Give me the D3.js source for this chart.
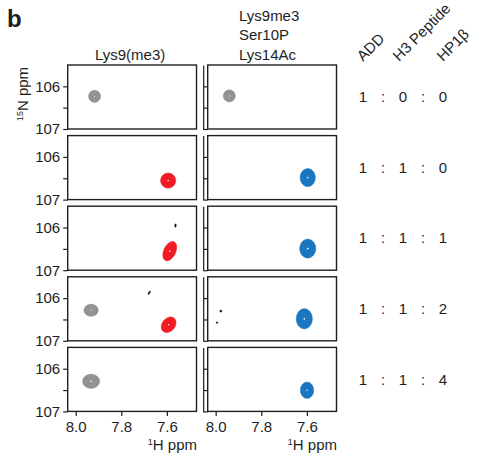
<!DOCTYPE html>
<html lang="en">
<head>
<meta charset="UTF-8">
<title>ADD HSQC titration</title>
<script src="https://d3js.org/d3.v7.min.js"></script>
<style>
  body { margin: 0; background: #fff; }
  text { font-family: "Liberation Sans", Arial, Helvetica, sans-serif; fill: #1e1e1e; }
  .frame { fill: none; stroke: #1e1e1e; stroke-width: 1.4; }
  .axis path, .axis line { stroke: #1e1e1e; stroke-width: 1.2; }
  .axis text { font-size: 15px; font-family: "Liberation Sans", Arial, sans-serif; fill: #1e1e1e; }
</style>
</head>
<body>
<svg id="chart"></svg>
<script>
// data
const panelTitles = [["Lys9(me3)"], ["Lys9me3", "Ser10P", "Lys14Ac"]];
const ratioHeaders = ["ADD", "H3 Peptide", "HP1β"];
const ratios = [[1, 0, 0], [1, 1, 0], [1, 1, 1], [1, 1, 2], [1, 1, 4]];
const hTicks = [8.0, 7.8, 7.6];
const nTicks = [106, 106.5, 107];
const hDomain = [8.035, 7.47];
const nDomain = [105.5, 107];

// row, col, 1H ppm, 15N ppm, half widths (ppm), tilt (deg), state
const peaks = [
  { row: 0, col: 0, h: 7.918, n: 106.23, wh: 0.026, wn: 0.14, tilt: 0, state: "free" },
  { row: 0, col: 1, h: 7.941, n: 106.22, wh: 0.026, wn: 0.14, tilt: 0, state: "free" },
  { row: 1, col: 0, h: 7.595, n: 106.55, wh: 0.033, wn: 0.175, tilt: 0, state: "me3" },
  { row: 1, col: 1, h: 7.597, n: 106.48, wh: 0.033, wn: 0.21, tilt: 0, state: "triple" },
  { row: 2, col: 0, h: 7.588, n: 106.55, wh: 0.026, wn: 0.24, tilt: 25, state: "me3" },
  { row: 2, col: 0, h: 7.563, n: 105.95, wh: 0.003, wn: 0.04, tilt: 0, state: "noise" },
  { row: 2, col: 1, h: 7.597, n: 106.49, wh: 0.035, wn: 0.22, tilt: 0, state: "triple" },
  { row: 3, col: 0, h: 7.933, n: 106.28, wh: 0.031, wn: 0.14, tilt: 0, state: "free" },
  { row: 3, col: 0, h: 7.593, n: 106.62, wh: 0.028, wn: 0.2, tilt: 40, state: "me3" },
  { row: 3, col: 0, h: 7.678, n: 105.87, wh: 0.003, wn: 0.045, tilt: 30, state: "noise" },
  { row: 3, col: 1, h: 7.612, n: 106.48, wh: 0.035, wn: 0.235, tilt: 0, state: "triple" },
  { row: 3, col: 1, h: 7.978, n: 106.30, wh: 0.004, wn: 0.025, tilt: 0, state: "noise" },
  { row: 3, col: 1, h: 7.995, n: 106.57, wh: 0.003, wn: 0.02, tilt: 0, state: "noise" },
  { row: 4, col: 0, h: 7.933, n: 106.29, wh: 0.037, wn: 0.165, tilt: 0, state: "free" },
  { row: 4, col: 1, h: 7.600, n: 106.50, wh: 0.029, wn: 0.19, tilt: 0, state: "triple" }
];

const colors = { free: "#8d8d8d", me3: "#ec1c24", triple: "#1b73b9", noise: "#111111" };

const width = 483, height = 454;
const panelX = [67.7, 207.7], panelW = 128.8, panelH = 64;
const rowY = i => 65 + i * 70.6;
const ratioX = [363, 403, 443], colonX = [383, 423];
const headerX = [363, 399, 443];

const svg = d3.select("#chart").attr("width", width).attr("height", height);

const x = d3.scaleLinear().domain(hDomain).range([0, panelW]);
const y = d3.scaleLinear().domain(nDomain).range([0, panelH]);

// grid for the contour levels
const k = 3;
const nx = Math.ceil(panelW * k), ny = panelH * k;
const levels = [0.22, 0.36, 0.5, 0.64, 0.78, 0.9];
const path = d3.geoPath(d3.geoIdentity().scale(1 / k));

function peakField(p) {
  const cx = x(p.h), cy = y(p.n);
  const s = Math.sqrt(2 * Math.log(1 / levels[0]));
  const sx = Math.abs(x(p.h + p.wh) - cx) / s;
  const sy = Math.abs(y(p.n + p.wn) - cy) / s;
  const t = p.tilt * Math.PI / 180;
  const vals = new Float64Array(nx * ny);
  for (let j = 0; j < ny; j++) {
    for (let i = 0; i < nx; i++) {
      const dx = i / k - cx, dy = j / k - cy;
      const u = dx * Math.cos(t) + dy * Math.sin(t);
      const v = -dx * Math.sin(t) + dy * Math.cos(t);
      vals[j * nx + i] = Math.exp(-(u * u / (2 * sx * sx) + v * v / (2 * sy * sy)));
    }
  }
  return vals;
}

// title
svg.append("text").attr("x", 7).attr("y", 27)
  .style("font-size", "24px").style("font-weight", "bold").text("b");

// column titles
svg.append("text").attr("x", panelX[0] + panelW / 2 - 2).attr("y", 59.5)
  .attr("text-anchor", "middle").style("font-size", "15px").text(panelTitles[0][0]);
svg.append("g").selectAll("text").data(panelTitles[1]).join("text")
  .attr("x", 239).attr("y", (d, i) => 20.5 + i * 19.5)
  .style("font-size", "15px").text(d => d);

// ratio headers
svg.append("g").selectAll("text").data(ratioHeaders).join("text")
  .attr("transform", (d, i) => `translate(${headerX[i]},62) rotate(-45)`)
  .style("font-size", "15px").text(d => d);

ratios.forEach((r, ri) => {
  const cy = rowY(ri) + panelH / 2;

  panelX.forEach((px, ci) => {
    const g = svg.append("g").attr("transform", `translate(${px},${rowY(ri)})`);

    g.append("defs").append("clipPath").attr("id", `c${ri}${ci}`)
      .append("rect").attr("width", panelW).attr("height", panelH);
    const plot = g.append("g").attr("clip-path", `url(#c${ri}${ci})`);

    peaks.filter(p => p.row === ri && p.col === ci).forEach(p => {
      const vals = peakField(p);
      const c = colors[p.state];
      const conts = d3.contours().size([nx, ny]).thresholds(levels)(vals);
      plot.append("path").attr("d", path(conts[0])).attr("fill", c)
        .attr("stroke", c).attr("stroke-width", 0.6);
      if (p.state !== "noise") {
        plot.selectAll(null).data(conts.slice(1)).join("path")
          .attr("d", path).attr("fill", "none")
          .attr("stroke", d3.color(c).brighter(0.35)).attr("stroke-width", 0.45);
        const centre = d3.contours().size([nx, ny]).thresholds([0.985])(vals);
        plot.append("path").attr("d", path(centre[0])).attr("fill", "#fff");
      }
    });

    g.append("rect").attr("class", "frame").attr("width", panelW).attr("height", panelH);

    // 15N axis
    if (ci === 0) {
      const ax = g.append("g").attr("class", "axis")
        .call(d3.axisLeft(y).tickValues(nTicks).tickSize(4.5).tickSizeOuter(0)
          .tickFormat(d => d % 1 ? "" : d));
      ax.select(".domain").remove();
    } else {
      g.append("g").attr("class", "axis").attr("transform", "translate(-4.5,0)")
        .call(d3.axisLeft(y).tickValues(nTicks).tickSize(-4.5).tickSizeOuter(0)
          .tickFormat(""));
    }

    // 1H axis on the last row
    if (ri === ratios.length - 1) {
      const bx = g.append("g").attr("class", "axis").attr("transform", `translate(0,${panelH})`)
        .call(d3.axisBottom(x).tickValues(hTicks).tickSize(4.5).tickPadding(5)
          .tickSizeOuter(0).tickFormat(d3.format(".1f")));
      bx.select(".domain").remove();
      const lab = g.append("text").attr("x", panelW + 0.5).attr("y", panelH + 39)
        .attr("text-anchor", "end").style("font-size", "15px");
      lab.append("tspan").attr("dy", -5).style("font-size", "9px").text("1");
      lab.append("tspan").attr("dy", 5).text("H ppm");
    }
  });

  // ratio text
  svg.append("g").selectAll("text").data(r).join("text")
    .attr("x", (d, i) => ratioX[i]).attr("y", cy).attr("dy", "0.35em")
    .attr("text-anchor", "middle").style("font-size", "15px").text(d => d);
  svg.append("g").selectAll("text").data(colonX).join("text")
    .attr("x", d => d).attr("y", cy).attr("dy", "0.35em")
    .attr("text-anchor", "middle").style("font-size", "15px").text(":");
});

// 15N label
const ylab = svg.append("text").attr("transform", "translate(28,94) rotate(-90)")
  .attr("text-anchor", "middle").style("font-size", "15px");
ylab.append("tspan").attr("dy", -5).style("font-size", "9px").text("15");
ylab.append("tspan").attr("dy", 5).text("N ppm");
</script>
</body>
</html>
